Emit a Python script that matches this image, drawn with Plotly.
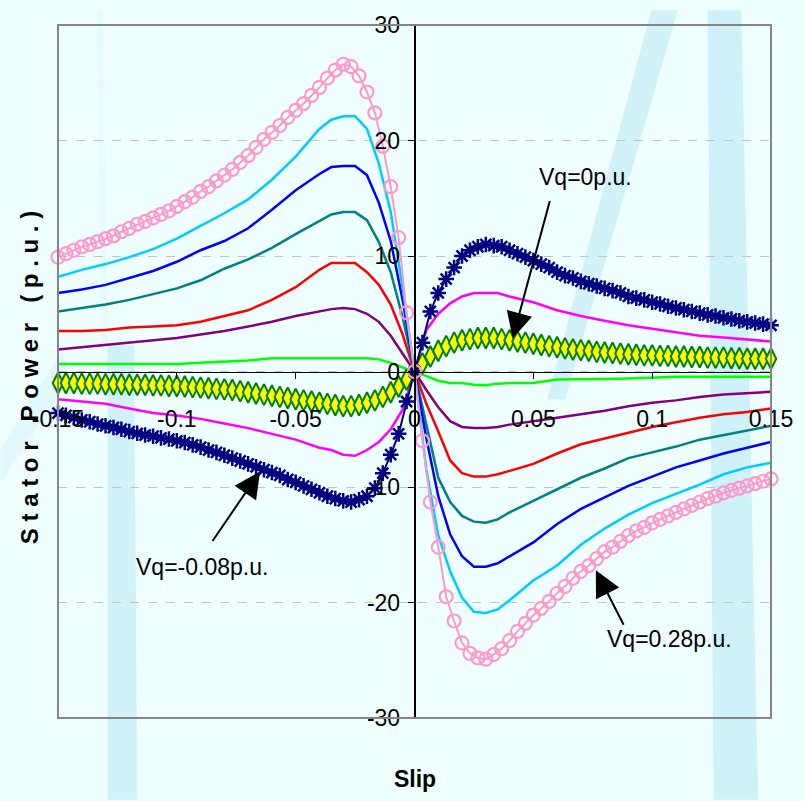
import plotly.graph_objects as go

# ---------------- data ----------------
X_TICKS = [-0.15, -0.1, -0.05, 0, 0.05, 0.1, 0.15]
X_TICK_TEXT = ["-0.15", "-0.1", "-0.05", "0", "0.05", "0.1", "0.15"]
Y_TICKS = [-30, -20, -10, 0, 10, 20, 30]
Y_TICK_TEXT = ["-30", "-20", "-10", "0", "10", "20", "30"]

SLIP_LINE = [-0.15, -0.14, -0.13, -0.12, -0.11, -0.10, -0.09, -0.08, -0.07, -0.06,
             -0.05, -0.04, -0.035, -0.03, -0.025, -0.02, -0.015, -0.01, -0.005, 0,
             0.005, 0.01, 0.015, 0.02, 0.025, 0.03, 0.035, 0.04, 0.05, 0.06,
             0.07, 0.08, 0.09, 0.10, 0.11, 0.12, 0.13, 0.14, 0.15]

SLIP_MARK = [k / 300 for k in range(-45, 46)]

P_VQ_M004 = [-2.4, -2.6, -2.8, -3.2, -3.6, -3.8, -4.1, -4.5, -4.9, -5.4,
             -5.9, -6.6, -6.8, -7.2, -7.3, -6.8, -6.1, -5.0, -3.3, 0,
             3.6, 5.0, 5.9, 6.5, 6.8, 6.8, 6.8, 6.5, 6.0, 5.3,
             4.8, 4.4, 4.0, 3.7, 3.4, 3.1, 2.95, 2.8, 2.6]
P_VQ_004 = [0.65, 0.65, 0.65, 0.65, 0.65, 0.65, 0.75, 0.85, 0.95, 1.15,
            1.15, 1.15, 1.15, 1.15, 1.15, 1.15, 1.05, 0.75, 0.35, 0,
            -0.4, -0.8, -1.0, -1.0, -1.15, -1.2, -1.05, -1.0, -1.0, -0.7,
            -0.7, -0.65, -0.6, -0.5, -0.45, -0.45, -0.45, -0.45, -0.45]
P_VQ_008 = [1.9, 2.1, 2.3, 2.5, 2.7, 2.9, 3.2, 3.5, 3.9, 4.3,
            4.8, 5.2, 5.4, 5.5, 5.4, 5.0, 4.3, 3.1, 1.6, 0,
            -1.6, -3.1, -4.3, -4.8, -4.9, -4.9, -4.8, -4.6, -4.3, -4.0,
            -3.7, -3.4, -3.0, -2.7, -2.5, -2.2, -2.0, -1.9, -1.75]
P_VQ_012 = [3.5, 3.5, 3.6, 3.8, 3.9, 4.0, 4.3, 4.8, 5.3, 6.2,
            7.3, 8.8, 9.4, 9.4, 9.4, 8.6, 7.5, 5.8, 3.2, 0,
            -2.8, -5.2, -7.7, -8.8, -9.1, -9.1, -8.9, -8.6, -8.0, -7.1,
            -6.3, -5.8, -5.3, -4.8, -4.4, -4.0, -3.7, -3.5, -3.2]
P_VQ_016 = [5.2, 5.5, 5.8, 6.2, 6.7, 7.2, 7.9, 8.9, 9.7, 10.7,
            11.9, 13.0, 13.6, 13.8, 13.8, 13.1, 11.2, 8.6, 4.7, 0,
            -4.6, -9.2, -11.3, -12.5, -13.0, -13.1, -12.8, -12.2, -11.2, -10.2,
            -9.2, -8.4, -7.5, -7.0, -6.5, -5.9, -5.5, -5.1, -4.7]
P_VQ_020 = [6.8, 7.1, 7.5, 8.1, 8.7, 9.5, 10.5, 11.3, 12.4, 14.0,
            15.7, 17.1, 17.7, 17.8, 17.8, 17.0, 14.6, 11.3, 6.2, 0,
            -5.8, -10.8, -14.1, -16.0, -16.9, -16.9, -16.6, -16.0, -14.8, -13.2,
            -11.9, -10.9, -9.9, -9.1, -8.3, -7.7, -7.1, -6.6, -6.1]
P_VQ_024 = [8.2, 8.8, 9.3, 9.9, 10.6, 11.5, 12.6, 13.7, 14.9, 16.6,
            18.6, 21.0, 21.8, 22.1, 22.1, 21.0, 18.0, 13.8, 7.3, 0,
            -8.5, -14.2, -17.3, -19.6, -20.8, -20.9, -20.6, -19.8, -18.1, -16.8,
            -15.0, -13.6, -12.4, -11.4, -10.6, -9.8, -8.9, -8.3, -7.9]

P_VQ_M008 = [-3.6, -3.8, -4.0, -4.2, -4.35, -4.55, -4.7, -4.85, -5.0, -5.2,
             -5.35, -5.5, -5.6, -5.75, -5.85, -6.0, -6.15, -6.35, -6.55, -6.8,
             -7.0, -7.25, -7.5, -7.75, -8.0, -8.25, -8.5, -8.75, -9.0, -9.35,
             -9.6, -9.9, -10.2, -10.5, -10.8, -11.0, -11.2, -11.3, -11.1, -10.8,
             -10.1, -8.8, -7.2, -5.4, -2.6, 0, 2.5, 5.2, 6.8, 8.0,
             9.0, 10.0, 10.5, 10.8, 11.0, 10.9, 10.8, 10.5, 10.2, 9.9,
             9.6, 9.3, 9.0, 8.6, 8.3, 8.1, 7.8, 7.6, 7.4, 7.2,
             7.0, 6.8, 6.5, 6.35, 6.2, 6.0, 5.85, 5.65, 5.5, 5.35,
             5.2, 5.05, 4.9, 4.8, 4.65, 4.55, 4.4, 4.3, 4.2, 4.1, 4.0]
P_VQ_0 = [-1.0, -1.0, -1.0, -1.05, -1.05, -1.05, -1.1, -1.1, -1.1, -1.15,
          -1.15, -1.15, -1.2, -1.2, -1.25, -1.25, -1.3, -1.35, -1.4, -1.45,
          -1.5, -1.55, -1.6, -1.7, -1.8, -1.9, -2.0, -2.1, -2.2, -2.3,
          -2.4, -2.5, -2.6, -2.7, -2.8, -2.9, -3.0, -3.0, -2.9, -2.7,
          -2.5, -2.2, -1.8, -1.3, -0.7, 0, 0.7, 1.3, 1.8, 2.2,
          2.5, 2.7, 2.8, 2.9, 2.9, 2.9, 2.8, 2.7, 2.6, 2.5,
          2.4, 2.3, 2.2, 2.1, 2.0, 1.9, 1.85, 1.8, 1.7, 1.65,
          1.6, 1.55, 1.5, 1.45, 1.4, 1.4, 1.35, 1.35, 1.3, 1.3,
          1.25, 1.25, 1.2, 1.2, 1.2, 1.15, 1.15, 1.1, 1.1, 1.1, 1.1]
P_VQ_028 = [9.9, 10.2, 10.5, 10.8, 11.0, 11.25, 11.5, 11.75, 12.1, 12.4,
            12.75, 13.0, 13.3, 13.6, 13.9, 14.3, 14.7, 15.1, 15.6, 16.0,
            16.5, 17.0, 17.5, 18.1, 18.7, 19.4, 20.1, 20.7, 21.3, 22.0,
            22.6, 23.2, 23.9, 24.6, 25.4, 26.1, 26.6, 26.4, 25.6, 24.2,
            22.4, 19.5, 16.0, 11.6, 5.1, 0, -6.0, -11.3, -15.2, -19.5,
            -21.6, -23.5, -24.4, -24.8, -24.9, -24.5, -24.0, -23.3, -22.5, -21.8,
            -21.1, -20.5, -19.9, -19.2, -18.6, -17.9, -17.3, -16.8, -16.2, -15.6,
            -15.2, -14.7, -14.2, -13.8, -13.5, -13.1, -12.8, -12.5, -12.2, -11.9,
            -11.6, -11.3, -11.0, -10.8, -10.5, -10.3, -10.1, -9.9, -9.7, -9.5, -9.3]

LINE_SERIES = [
    ("Vq=-0.04p.u.", P_VQ_M004, "#FF00FF"),
    ("Vq=0.04p.u.", P_VQ_004, "#00FF00"),
    ("Vq=0.08p.u.", P_VQ_008, "#800080"),
    ("Vq=0.12p.u.", P_VQ_012, "#FF0000"),
    ("Vq=0.16p.u.", P_VQ_016, "#008080"),
    ("Vq=0.2p.u.", P_VQ_020, "#0000FF"),
    ("Vq=0.24p.u.", P_VQ_024, "#00CCFF"),
]

FONT = "Liberation Sans, Arial, sans-serif"
BG = "#EFFFFF"
NB = "\u00a0"

fig = go.Figure()

for name, vals, col in LINE_SERIES:
    fig.add_trace(go.Scatter(x=SLIP_LINE, y=vals, mode="lines", name=name,
                             line=dict(color=col, width=2.5)))

fig.add_trace(go.Scatter(
    x=SLIP_MARK, y=P_VQ_0, mode="lines+markers", name="Vq=0p.u.", cliponaxis=False,
    line=dict(color="#008000", width=2),
    marker=dict(symbol="diamond-tall", size=15, color="#FFFF00",
                line=dict(color="#008000", width=2))))
fig.add_trace(go.Scatter(
    x=SLIP_MARK, y=P_VQ_M008, mode="lines+markers", name="Vq=-0.08p.u.", cliponaxis=False,
    line=dict(color="#000080", width=2),
    marker=dict(symbol="asterisk-open", size=13,
                line=dict(color="#000080", width=2.5))))
fig.add_trace(go.Scatter(
    x=SLIP_MARK, y=P_VQ_028, mode="lines+markers", name="Vq=0.28p.u.", cliponaxis=False,
    line=dict(color="#FF99CC", width=2),
    marker=dict(symbol="circle-open", size=13,
                line=dict(color="#FF99CC", width=2.2))))

# ---------------- decorative background bands ----------------
def px_path(points):
    # convert pixel coords to paper coords (plot area x 58..778, y 15..718)
    s = ""
    for i, (px, py) in enumerate(points):
        xp = (px - 58) / 720
        yp = (718 - py) / 703
        s += ("M" if i == 0 else "L") + f"{xp:.4f},{yp:.4f} "
    return s + "Z"

shapes = [
    dict(type="path", xref="paper", yref="paper", layer="below", line=dict(width=0),
         fillcolor="rgba(185,232,246,0.6)",
         path=px_path([(714, 0), (748, 0), (765, 801), (720, 801)])),
    dict(type="path", xref="paper", yref="paper", layer="below", line=dict(width=0),
         fillcolor="rgba(185,232,246,0.55)",
         path=px_path([(657, 0), (684, 0), (570, 395), (552, 395)])),
    dict(type="path", xref="paper", yref="paper", layer="below", line=dict(width=0),
         fillcolor="rgba(185,232,246,0.55)",
         path=px_path([(108, 340), (135, 340), (138, 801), (108, 801)])),
    dict(type="path", xref="paper", yref="paper", layer="below", line=dict(width=0),
         fillcolor="rgba(185,232,246,0.18)",
         path=px_path([(97, 0), (103, 0), (108, 340), (102, 340)])),
    dict(type="path", xref="paper", yref="paper", layer="below", line=dict(width=0),
         fillcolor="rgba(185,232,246,0.25)",
         path=px_path([(0, 445), (0, 480), (70, 372), (62, 345)])),
    dict(type="rect", xref="paper", yref="paper", x0=0, x1=1, y0=0, y1=1,
         line=dict(color="#858585", width=2), layer="above"),
]

ytitle = (NB * 3).join(NB.join(w) for w in ["Stator", "Power", "(p.u.)"])

annotations = [
    dict(text=ytitle, xref="paper", yref="paper", x=(30 - 58) / 720, y=(718 - 373) / 703,
         xanchor="center", yanchor="middle",
         textangle=-90, showarrow=False,
         font=dict(family=FONT, size=24, color="black", weight="bold")),
    dict(text="Slip", xref="paper", yref="paper", x=(418 - 58) / 720, y=(718 - 780) / 703,
         xanchor="center", yanchor="middle",
         showarrow=False, font=dict(family=FONT, size=23, color="black", weight="bold")),
    dict(text="Vq=0p.u.", x=0.0721, y=16.8, xref="x", yref="y", showarrow=False,
         xanchor="center", yanchor="middle",
         font=dict(family=FONT, size=23, color="black")),
    dict(text="Vq=-0.08p.u.", x=-0.0896, y=-16.9, xref="x", yref="y", showarrow=False,
         xanchor="center", yanchor="middle",
         font=dict(family=FONT, size=23, color="black")),
    dict(text="Vq=0.28p.u.", x=0.1075, y=-23.2, xref="x", yref="y", showarrow=False,
         xanchor="center", yanchor="middle",
         font=dict(family=FONT, size=23, color="black")),
]
for hx, hy, tx, ty in [(0.0413, 2.86, 0.0571, 14.9),
                       (-0.065, -8.66, -0.0854, -14.8),
                       (0.0763, -17.2, 0.0883, -22.06)]:
    annotations.append(dict(text="", x=hx, y=hy, ax=tx, ay=ty, xref="x", yref="y",
                            axref="x", ayref="y", showarrow=True, arrowhead=2,
                            arrowsize=2.6, arrowwidth=2, arrowcolor="black", standoff=0))

fig.update_layout(
    width=805, height=801,
    margin=dict(l=58, r=27, t=15, b=83),
    paper_bgcolor=BG, plot_bgcolor=BG,
    showlegend=False,
    shapes=shapes, annotations=annotations,
    xaxis=dict(range=[-0.15, 0.15], anchor="free", position=0.5,
               showline=True, linecolor="black", linewidth=1,
               ticks="outside", ticklen=6, tickcolor="black",
               tickvals=X_TICKS, ticktext=X_TICK_TEXT,
               tickfont=dict(family=FONT, size=23, color="black"),
               ticklabelstandoff=21, showgrid=False, zeroline=False),
    yaxis=dict(range=[-30, 30], anchor="free", position=0.5,
               showline=True, linecolor="black", linewidth=1.5,
               ticks="outside", ticklen=6, tickcolor="black",
               tickvals=Y_TICKS, ticktext=Y_TICK_TEXT,
               tickfont=dict(family=FONT, size=23, color="black"),
               ticklabelstandoff=3,
               showgrid=True, gridcolor="#C4C4C4", griddash="dash", gridwidth=1,
               zeroline=False),
)

fig.write_html("out.html")
